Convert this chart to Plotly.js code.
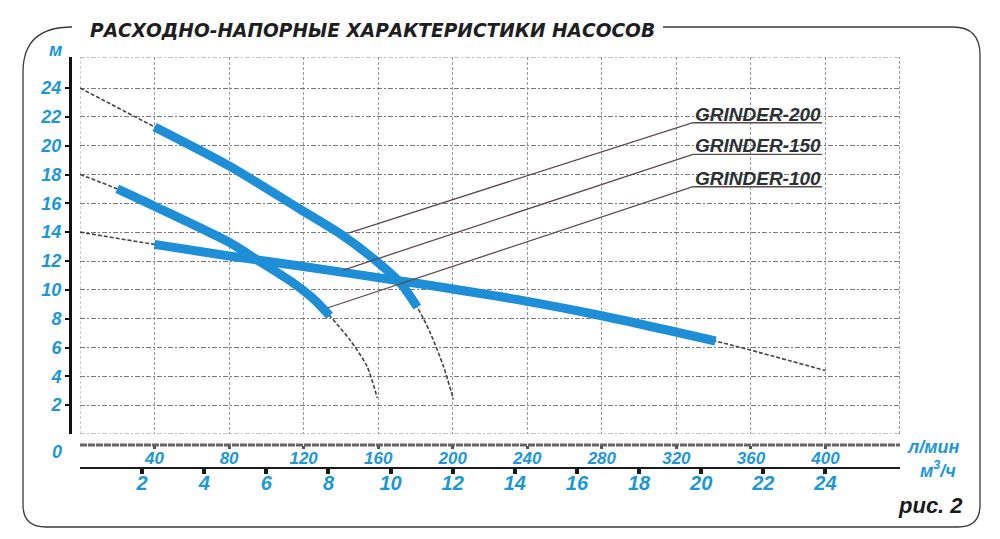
<!DOCTYPE html>
<html><head><meta charset="utf-8">
<script src="https://cdn.plot.ly/plotly-3.0.1.min.js"></script>
<style>html,body{margin:0;padding:0;background:#fff}#chart{width:1000px;height:539px}</style>
</head><body><div id="chart"></div>
<script>
// ---- data ----
const flowTicks = [40, 80, 120, 160, 200, 240, 280, 320, 360, 400];   // л/мин
const headTicks = [2, 4, 6, 8, 10, 12, 14, 16, 18, 20, 22, 24];       // м
const m3hTicks  = [2, 4, 6, 8, 10, 12, 14, 16, 18, 20, 22, 24];       // м³/ч

const g200Q = [0, 40, 80, 118, 140, 158, 172, 181, 188, 195, 200.4];
const g200H = [24.0, 21.3, 18.6, 15.6, 13.85, 12.1, 10.45, 8.8, 7.0, 4.7, 2.4];
const g200Work = [1, 7];   // indices of working (blue) part

const g150Q = [0, 20, 40, 80, 96, 113, 125, 134, 145, 154, 159.5];
const g150H = [18.0, 17.0, 15.8, 13.3, 12.0, 10.6, 9.4, 8.2, 6.5, 4.7, 2.5];
const g150Work = [1, 7];

const g100Q = [0, 40, 80, 118, 160, 183, 240, 280, 341, 400];
const g100H = [14.0, 13.15, 12.35, 11.65, 10.85, 10.4, 9.2, 8.2, 6.45, 4.4];
const g100Work = [1, 8];

const labelNames = ['GRINDER-200', 'GRINDER-150', 'GRINDER-100'];
const leaderQ = [[144.0, 328.9, 398.2], [141.3, 328.9, 398.2], [132.7, 328.9, 398.2]];
const leaderH = [[13.94, 21.59, 21.59], [11.37, 19.40, 19.40], [8.74, 17.15, 17.15]];

const xMax = 440, yMax = 26.15, m3hMax = 26.4;

// ---- layout geometry helpers ----
const ML = 70, MR = 100, MT = 57, MB = 71, W = 1000, H = 539;
const PW = W - ML - MR, PH = H - MT - MB;
const pxX = px => (px - ML) / PW;
const pxY = py => (H - MB - py) / PH;

const BLUE = '#1e8fd6';
const TXTBLUE = '#1b97d8';
const FONT = 'Liberation Sans, Arial, sans-serif';

function seg(a, r) { return a.slice(r[0], r[1] + 1); }

const traces = [];
const pumps = [[g200Q, g200H, g200Work], [g150Q, g150H, g150Work], [g100Q, g100H, g100Work]];
pumps.forEach(([q, h]) => {
  traces.push({x: q, y: h, mode: 'lines', line: {color: '#444', width: 1.6, dash: '4px,2px', shape: 'spline', smoothing: 0.7}, hoverinfo: 'skip', showlegend: false});
});
pumps.forEach(([q, h, w]) => {
  traces.push({x: seg(q, w), y: seg(h, w), mode: 'lines', line: {color: BLUE, width: 9, shape: 'spline', smoothing: 0.7}, hoverinfo: 'skip', showlegend: false});
});
leaderQ.forEach((q, i) => {
  traces.push({x: q, y: leaderH[i], mode: 'lines', line: {color: '#5a4a4a', width: 1.3}, hoverinfo: 'skip', showlegend: false});
});
// anchor trace for the secondary (м³/ч) axis
traces.push({x: [m3hTicks[0]], y: [headTicks[0]], xaxis: 'x2', mode: 'markers', marker: {opacity: 0}, hoverinfo: 'skip', showlegend: false});

const annotations = labelNames.map((t, i) => ({
  x: (leaderQ[i][1] + leaderQ[i][2]) / 2, y: leaderH[i][1] + 0.6, xref: 'x', yref: 'y',
  text: t, showarrow: false, xanchor: 'center', yanchor: 'middle',
  font: {family: FONT, size: 19, color: '#2b3034', weight: 'bold', style: 'italic'}
}));
const unitFont = {family: FONT, size: 18, color: TXTBLUE, style: 'italic', weight: 'bold'};
const paperNote = (px, py, text, font) => ({x: pxX(px), y: pxY(py), xref: 'paper', yref: 'paper',
  xanchor: 'center', yanchor: 'middle', text: text, showarrow: false, font: font});
annotations.push(
  paperNote(55, 50, 'м', unitFont),
  paperNote(57, 452, '0', unitFont),
  paperNote(933, 447, 'л/мин', unitFont),
  paperNote(938, 469, 'м<sup>3</sup>/ч', unitFont),
  paperNote(930, 505, 'рис. 2', {family: FONT, size: 22, color: '#1a1a1a', style: 'italic', weight: 'bold'})
);

// frame (rounded, with a gap for the title)
const fp = (x, y) => pxX(x).toFixed(4) + ',' + pxY(y).toFixed(4);
const framePath = 'M' + fp(72, 27) + ' Q' + fp(23, 27) + ' ' + fp(23, 72) +
  ' L' + fp(23, 505) + ' Q' + fp(23, 527) + ' ' + fp(46, 527) +
  ' L' + fp(958, 527) + ' Q' + fp(980, 527) + ' ' + fp(980, 505) +
  ' L' + fp(980, 55) + ' Q' + fp(980, 27) + ' ' + fp(953, 27) + ' L' + fp(663, 27);

const gridDot = {color: '#8a8a8a', width: 1, dash: '5px,2px,2px,2px'};
const shapes = [
  {type: 'path', xref: 'paper', yref: 'paper', path: framePath, line: {color: '#3a3a3a', width: 1.3}, layer: 'below'},
  {type: 'line', xref: 'x', yref: 'y', x0: 0, x1: xMax, y0: 0, y1: 0, line: gridDot, layer: 'below'},
  {type: 'line', xref: 'x', yref: 'y', x0: 0, x1: xMax, y0: yMax, y1: yMax, line: gridDot, layer: 'below'},
  {type: 'line', xref: 'x', yref: 'y', x0: 0, x1: 0, y0: 0, y1: yMax, line: {color: '#9a9a9a', width: 1, dash: '3px,2px'}, layer: 'below'},
  {type: 'line', xref: 'x', yref: 'y', x0: xMax, x1: xMax, y0: 0, y1: yMax, line: {color: '#555', width: 1.2, dash: '3px,2px'}, layer: 'below'},
  {type: 'line', xref: 'paper', yref: 'paper', x0: pxX(80), x1: pxX(900), y0: pxY(445), y1: pxY(445), line: {color: '#6b6262', width: 3, dash: '7px,1px'}, layer: 'below'}
];

const layout = {
  width: W, height: H,
  margin: {l: ML, r: MR, t: MT, b: MB, pad: 0},
  paper_bgcolor: '#ffffff', plot_bgcolor: 'rgba(0,0,0,0)',
  showlegend: false,
  title: {text: 'РАСХОДНО-НАПОРНЫЕ ХАРАКТЕРИСТИКИ НАСОСОВ', xref: 'container', yref: 'container',
          x: 0.09, xanchor: 'left', y: 1 - 30 / H, yanchor: 'middle',
          font: {family: 'DejaVu Sans, Liberation Sans, sans-serif', size: 18.6, color: '#1e1e1e', weight: 'bold', style: 'italic'}},
  xaxis: {domain: [10 / PW, 1], range: [0, xMax], anchor: 'free', position: pxY(445),
          tickvals: flowTicks, ticktext: flowTicks.map(String),
          showgrid: true, gridcolor: '#9a9a9a', gridwidth: 1, griddash: '3px,2px',
          zeroline: false, showline: false,
          ticks: 'outside', ticklen: 3, tickwidth: 3, tickcolor: '#555',
          ticklabelstandoff: -5,
          tickfont: {family: FONT, size: 17, color: TXTBLUE, style: 'italic', weight: 'bold'}},
  xaxis2: {overlaying: 'x', domain: [10 / PW, 1], range: [0, m3hMax], anchor: 'free', position: 0,
           tickvals: m3hTicks, ticktext: m3hTicks.map(String),
           showgrid: false, zeroline: false, showline: true, linecolor: '#1a1a1a', linewidth: 2,
           ticks: 'outside', ticklen: 5, tickwidth: 4, tickcolor: '#1a1a1a',
           ticklabelstandoff: -8,
           tickfont: {family: FONT, size: 20, color: TXTBLUE, style: 'italic', weight: 'bold'}},
  yaxis: {domain: [pxY(434), 1], range: [0, yMax], anchor: 'free', position: 0,
          tickvals: headTicks, ticktext: headTicks.map(String),
          showgrid: true, gridcolor: '#7a7a7a', gridwidth: 1, griddash: '5px,2px,2px,2px',
          zeroline: false, showline: true, linecolor: '#111', linewidth: 3,
          ticks: 'outside', ticklen: 4, tickwidth: 2, tickcolor: '#111',
          tickfont: {family: FONT, size: 18, color: TXTBLUE, style: 'italic', weight: 'bold'}},
  annotations: annotations,
  shapes: shapes
};

Plotly.newPlot('chart', traces, layout, {staticPlot: true, displayModeBar: false});
</script>
</body></html>
